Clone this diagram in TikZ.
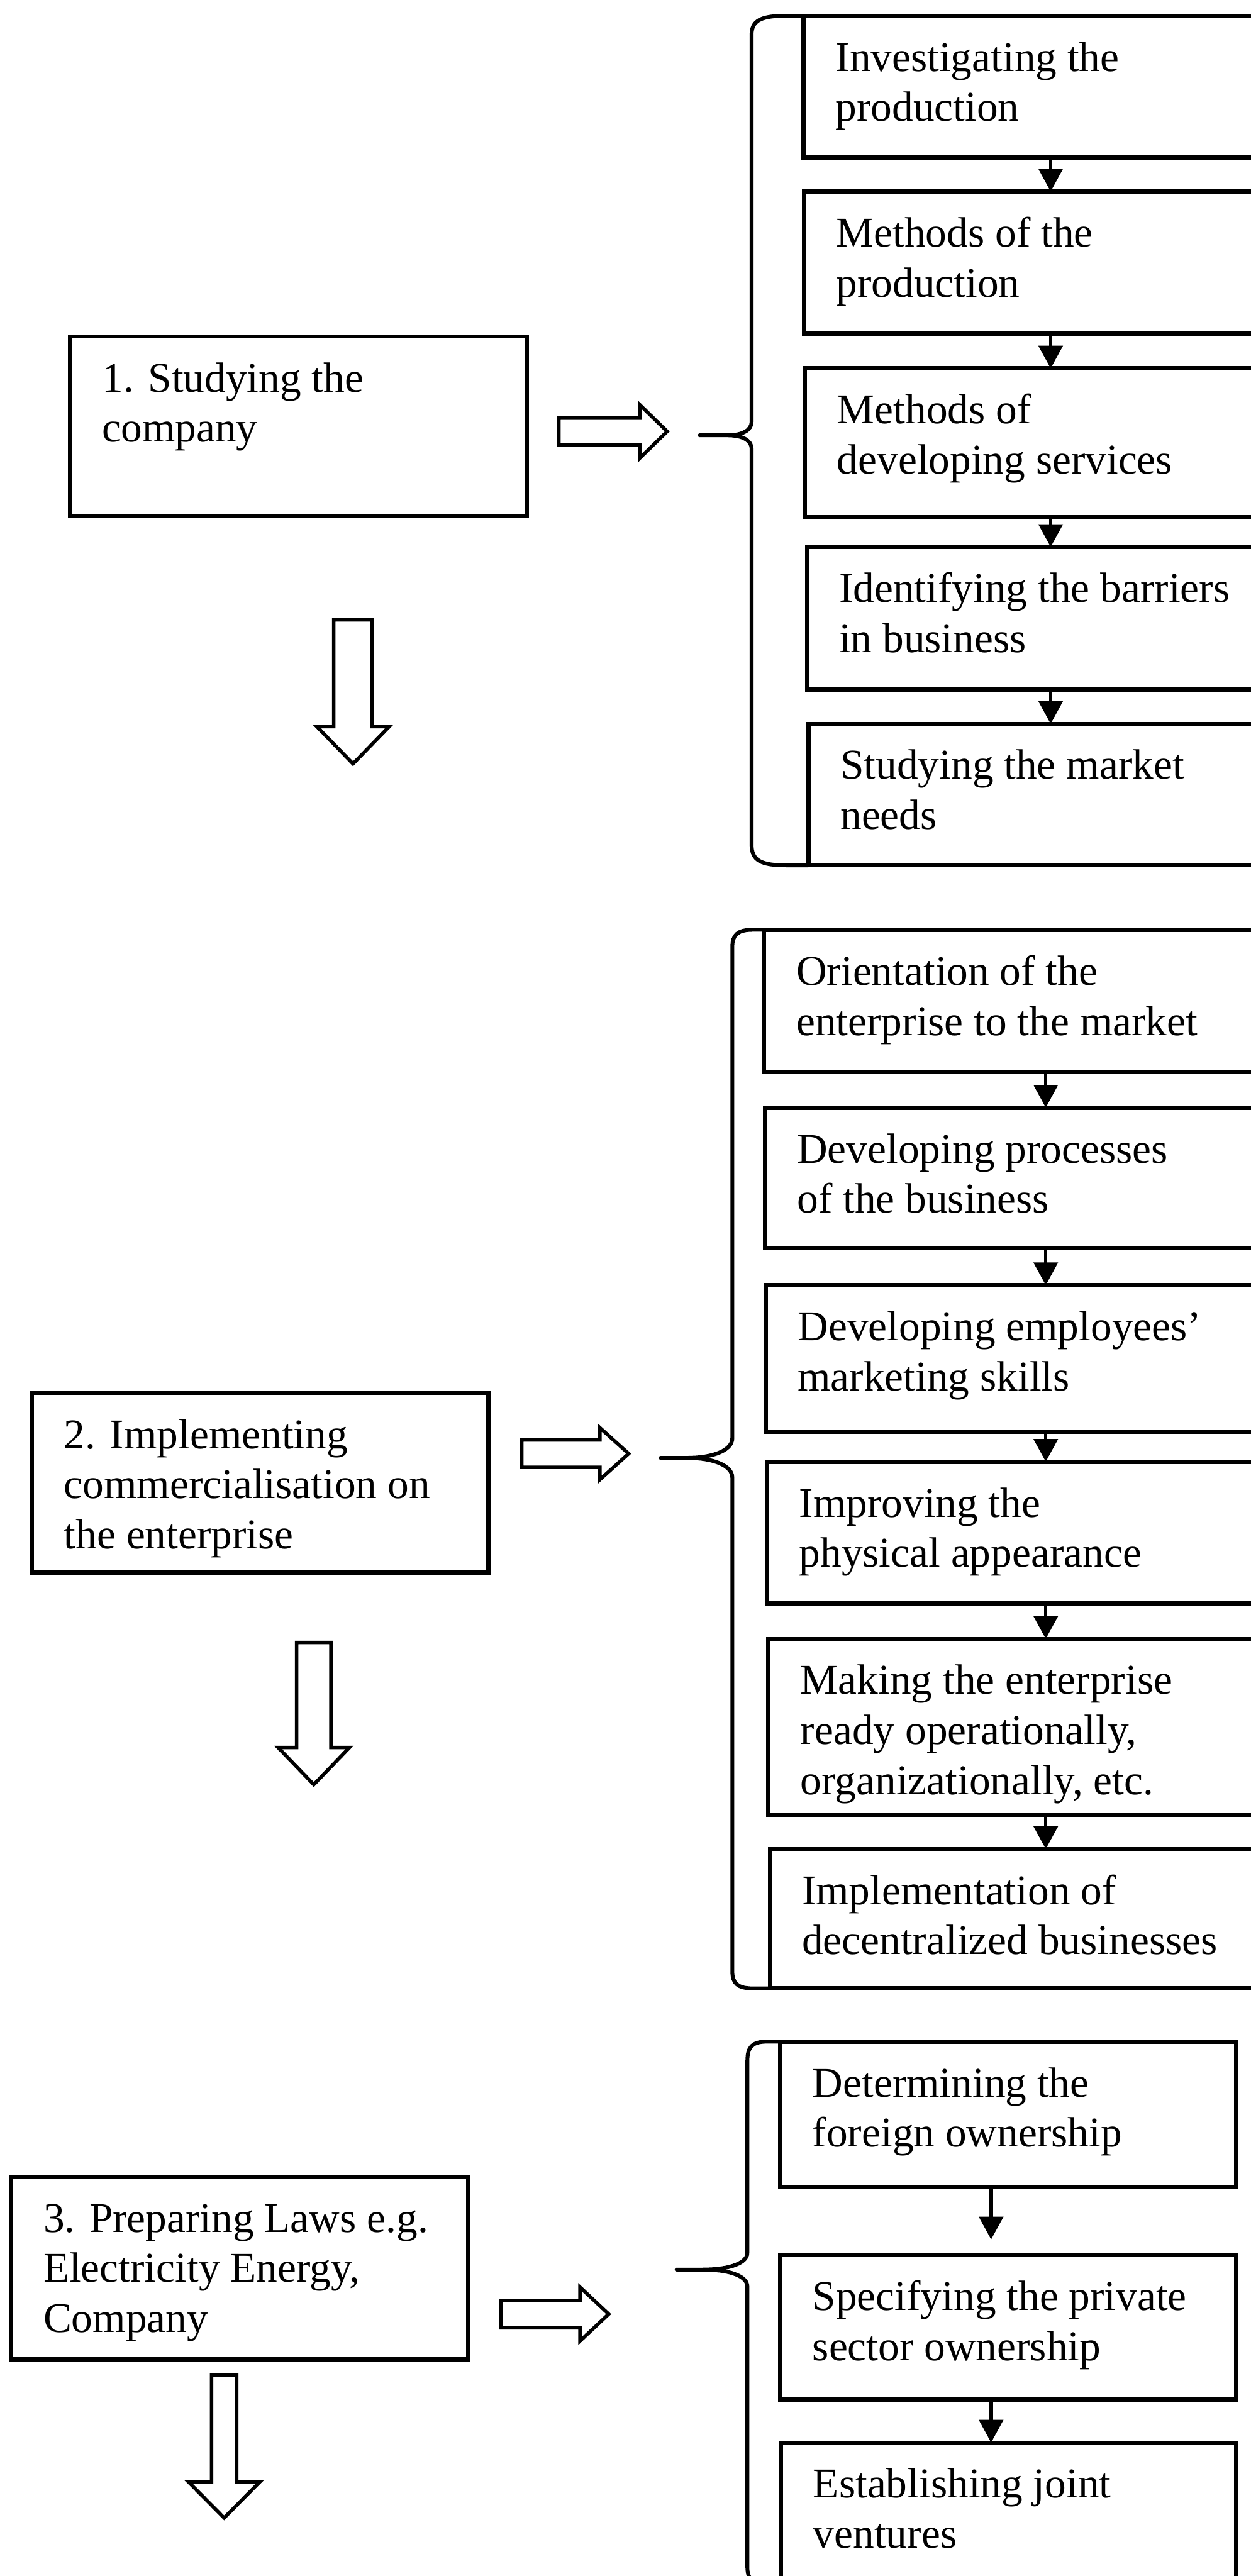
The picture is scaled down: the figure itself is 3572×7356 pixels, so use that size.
\documentclass[tikz,border=0pt]{standalone}
\usepackage{fontspec}
\setmainfont{Liberation Serif}
\usetikzlibrary{arrows.meta,calc}

% left-aligned lines whose reference point is the first baseline
\newcommand\boxlines[1]{\vtop{\halign{##\hfil\cr#1\crcr}}}

\tikzset{
  stagebox/.style={draw, line width=1.2pt, inner sep=0pt, outer sep=0pt, anchor=north west},
  label text/.style={anchor=base west, inner sep=0pt, font=\fontsize{12.1pt}{14.3pt}\selectfont},
  flow/.style={line width=1pt, -{Triangle[width=6.8pt,length=6.5pt]}},
  hollow/.style={draw, line width=1pt, line join=miter, fill=white},
  brace line/.style={line width=1.1pt, line join=round, line cap=round},
}

% name, left, top, width, height, lines
\newcommand\putbox[6]{%
  \node[stagebox, minimum width=#4*0.1pt, minimum height=#5*0.1pt] (#1) at (#2,#3) {};
  \node[label text] (#1-t) at ($(#1.north west)+(90,158)$) {\boxlines{#6}};
}

\begin{document}
\begin{tikzpicture}[x=0.1pt, y=-0.1pt]
\useasboundingbox (0,0) rectangle (3572,7356);
\clip (0,0) rectangle (3572,7356);

% ---------- stage 1 ----------
\putbox{m1}{200}{961}{1304}{512}{1. Studying the\cr company}
\putbox{s1a}{2294}{45}{1346}{405}{Investigating the\cr production}
\putbox{s1b}{2296}{547}{1344}{406}{Methods of the\cr production}
\putbox{s1c}{2298}{1052}{1342}{424}{Methods of\cr developing services}
\putbox{s1d}{2304}{1562}{1336}{407}{Identifying the barriers\cr in business}
\putbox{s1e}{2308}{2067}{1332}{404}{Studying the market\cr needs}

\coordinate (f1) at (3000,0);
\draw[flow] (s1a.south -| f1) -- (s1b.north -| f1);
\draw[flow] (s1b.south -| f1) -- (s1c.north -| f1);
\draw[flow] (s1c.south -| f1) -- (s1d.north -| f1);
\draw[flow] (s1d.south -| f1) -- (s1e.north -| f1);

\draw[brace line] (s1a.north west) -- (2246,45) .. controls (2170,45) and (2146,60) .. (2146,100)
  -- (2146,1205) .. controls (2146,1228) and (2120,1243) .. (2078,1243) -- (1998,1243)
  -- (2078,1243) .. controls (2120,1243) and (2146,1258) .. (2146,1281)
  -- (2146,2411) .. controls (2146,2456) and (2170,2471) .. (2246,2471) -- (s1e.south west);

\draw[hollow] (1596,1194) -- (1827,1194) -- (1827,1156) -- (1905,1232) -- (1827,1308)
  -- (1827,1270) -- (1596,1270) -- cycle;
\draw[hollow] (953,1770) -- (1063,1770) -- (1063,2075) -- (1111,2075) -- (1008,2181)
  -- (905,2075) -- (953,2075) -- cycle;

% ---------- stage 2 ----------
\putbox{m2}{91}{3978}{1303}{512}{2. Implementing\cr commercialisation on\cr the enterprise}
\putbox{s2a}{2182}{2655}{1458}{406}{Orientation of the\cr enterprise to the market}
\putbox{s2b}{2184}{3163}{1456}{402}{Developing processes\cr of the business}
\putbox{s2c}{2186}{3670}{1454}{418}{Developing employees’\cr marketing skills}
\putbox{s2d}{2190}{4174}{1450}{404}{Improving the\cr physical appearance}
\putbox{s2e}{2194}{4680}{1446}{502}{Making the enterprise\cr ready operationally,\cr organizationally, etc.}
\putbox{s2f}{2198}{5280}{1442}{398}{Implementation of\cr decentralized businesses}

\coordinate (f2) at (2986,0);
\draw[flow] (s2a.south -| f2) -- (s2b.north -| f2);
\draw[flow] (s2b.south -| f2) -- (s2c.north -| f2);
\draw[flow] (s2c.south -| f2) -- (s2d.north -| f2);
\draw[flow] (s2d.south -| f2) -- (s2e.north -| f2);
\draw[flow] (s2e.south -| f2) -- (s2f.north -| f2);

\draw[brace line] (s2a.north west) -- (2150,2655) .. controls (2105,2655) and (2091,2670) .. (2091,2705)
  -- (2091,4107) .. controls (2091,4140) and (2040,4163) .. (1959,4163) -- (1886,4163)
  -- (1959,4163) .. controls (2040,4163) and (2091,4186) .. (2091,4219)
  -- (2091,5628) .. controls (2091,5663) and (2105,5678) .. (2150,5678) -- (s2f.south west);

\draw[hollow] (1490,4112) -- (1713,4112) -- (1713,4077) -- (1795,4151) -- (1713,4225)
  -- (1713,4190) -- (1490,4190) -- cycle;
\draw[hollow] (847,4690) -- (945,4690) -- (945,4990) -- (998,4990) -- (896,5096)
  -- (794,4990) -- (847,4990) -- cycle;

% ---------- stage 3 ----------
\putbox{m3}{32}{6216}{1305}{521}{3. Preparing Laws e.g.\cr Electricity Energy,\cr Company}
\putbox{s3a}{2228}{5830}{1302}{414}{Determining the\cr foreign ownership}
\putbox{s3b}{2228}{6440}{1302}{412}{Specifying the private\cr sector ownership}
\putbox{s3c}{2230}{6975}{1300}{600}{Establishing joint\cr ventures}

\coordinate (f3) at (2830,0);
\draw[flow, shorten >=4.5pt] (s3a.south -| f3) -- (s3b.north -| f3);
\draw[flow] (s3b.south -| f3) -- (s3c.north -| f3);

\draw[brace line] (s3a.north west) -- (2190,5830) .. controls (2148,5830) and (2134,5845) .. (2134,5885)
  -- (2134,6433) .. controls (2134,6460) and (2090,6481) .. (2005,6481) -- (1932,6481)
  -- (2005,6481) .. controls (2090,6481) and (2134,6502) .. (2134,6529)
  -- (2134,7330) .. controls (2134,7365) and (2148,7380) .. (2190,7380);

\draw[hollow] (1431,6569) -- (1656,6569) -- (1656,6531) -- (1738,6608) -- (1656,6685)
  -- (1656,6647) -- (1431,6647) -- cycle;
\draw[hollow] (604,6782) -- (676,6782) -- (676,7087) -- (742,7087) -- (640,7190)
  -- (538,7087) -- (604,7087) -- cycle;
\end{tikzpicture}
\end{document}
